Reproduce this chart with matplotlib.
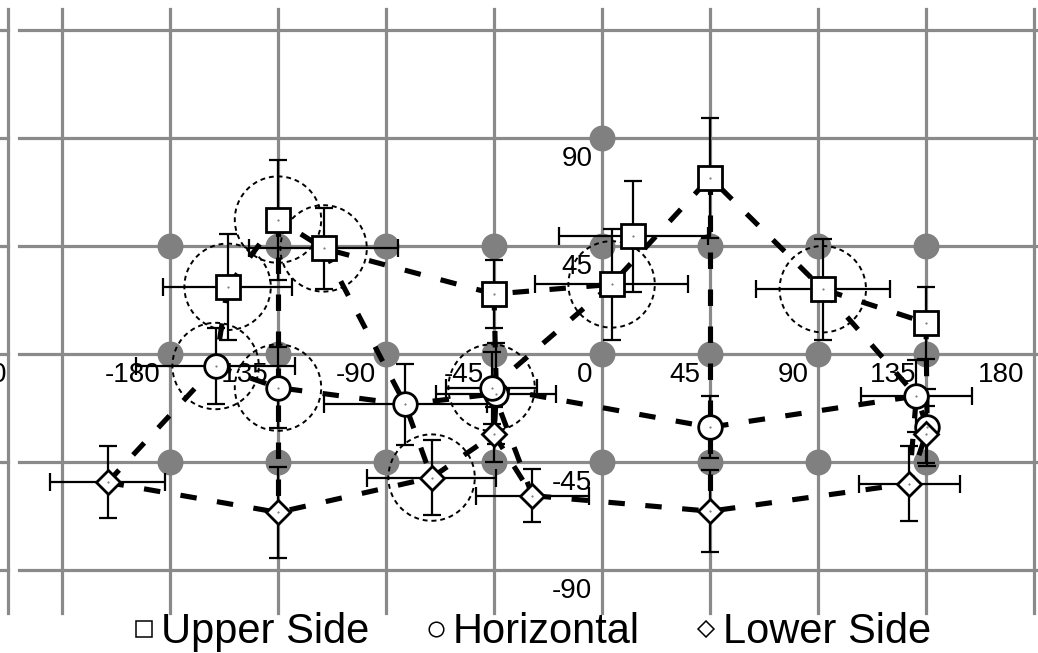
import matplotlib

matplotlib.use("Agg")
import matplotlib.pyplot as plt  # noqa: E402
from matplotlib.lines import Line2D  # noqa: E402
from matplotlib.patches import Circle  # noqa: E402

plt.rcParams["font.family"] = ["Liberation Sans", "DejaVu Sans"]

# target grid (azimuth, elevation), degrees
target_az = [-180, -135, -90, -45, 0, 45, 90, 135]
target_el = [45, 0, -45]
top_az, top_el = 0, 90

# responses per target azimuth: mean and spread, ring = dotted circle drawn
upper_x = [-156, -135, -116, -45, 4, 45, 92, 135]
upper_y = [28, 56, 44, 25, 29, 73.5, 27, 13]
upper_xerr = [27, 0, 31, 0, 32, 0, 28, 0]
upper_yerr = [22, 25, 17, 14, 23, 25, 21, 15]
upper_ring = [1, 1, 1, 0, 1, 0, 1, 0]

# response to the (0, 90) target
top_x, top_y, top_xerr, top_yerr = 13, 49, 31, 23

horiz_x = [-161, -135, -82, -44, -46, 45, 131, 135.5]
horiz_y = [-5, -14, -21, -16.5, -14, -30.5, -17.5, -30.5]
horiz_xerr = [33, 0, 34, 25, 19, 0, 23, 0]
horiz_yerr = [16, 17, 17, 21, 15, 13, 15, 16]
horiz_ring = [1, 1, 0, 0, 1, 0, 0, 0]

lower_x = [-206, -135, -71, -45, -29, 45, 128, 135]
lower_y = [-53.5, -66, -51.5, -33.5, -59, -65.5, -54, -33.5]
lower_xerr = [24, 0, 27, 0, 23.5, 0, 21, 0]
lower_yerr = [15, 19, 15.5, 11.5, 11, 17, 15.5, 12]
lower_ring = [0, 0, 1, 0, 0, 0, 0, 0]

ring_radius = 18
xtick_vals = [-180, -135, -90, -45, 0, 45, 90, 135, 180]
ytick_vals = [90, 45, -45, -90]
grid_x = [-225, -180, -135, -90, -45, 0, 45, 90, 135, 180]
grid_y = [-90, -45, 0, 45, 90, 135]

GRID = "#8a8a8a"
DOT = "#808080"

fig = plt.figure(figsize=(10.38, 6.53), dpi=100)
ax = fig.add_axes([0, 0, 1, 1])
ax.set_xlim(-250.83, 181.67)
ax.set_ylim(-124.58, 147.5)
ax.axis("off")

# grid
for gx in grid_x:
    ax.plot([gx, gx], [143.75, -107.9], color=GRID, lw=2.3, zorder=1)
ax.plot([-247.5, -247.5], [143.75, -107.9], color=GRID, lw=2.3, zorder=1)
for gy in grid_y:
    ax.plot([-242.9, 181.67], [gy, gy], color=GRID, lw=2.3, zorder=1)
    ax.plot([-250.83, -247.5], [gy, gy], color=GRID, lw=2.3, zorder=1)

# target positions
for el in target_el:
    ax.plot(target_az, [el] * len(target_az), "o", ms=18.7, color=DOT,
            mec="none", zorder=2)
ax.plot([top_az], [top_el], "o", ms=18.7, color=DOT, mec="none", zorder=2)

# axis labels sitting on the crossing lines
for v in xtick_vals:
    ax.annotate(str(v), (v, 0), xytext=(-7, -6), textcoords="offset points",
                ha="right", va="top", fontsize=20, zorder=3)
for v in ytick_vals:
    ax.annotate(str(v), (0, v), xytext=(-7, -6), textcoords="offset points",
                ha="right", va="top", fontsize=20, zorder=3)
ax.annotate("0", (-247.5, 0), xytext=(-1, -6), textcoords="offset points",
            ha="right", va="top", fontsize=20, zorder=3)

# deformed grid: rows then columns
dash = (0, (3.2, 4))
for xs, ys in [(upper_x, upper_y), (horiz_x, horiz_y), (lower_x, lower_y)]:
    ax.plot(xs, ys, ls=dash, lw=3.7, color="black", zorder=4)
for i in range(len(target_az)):
    ax.plot([upper_x[i], horiz_x[i], lower_x[i]],
            [upper_y[i], horiz_y[i], lower_y[i]],
            ls=dash, lw=3.7, color="black", zorder=4)

series = [
    (upper_x + [top_x], upper_y + [top_y], upper_xerr + [top_xerr],
     upper_yerr + [top_yerr], upper_ring + [0], "s", 17),
    (horiz_x, horiz_y, horiz_xerr, horiz_yerr, horiz_ring, "o", 17),
    (lower_x, lower_y, lower_xerr, lower_yerr, lower_ring, "D", 12.5),
]
for xs, ys, xe, ye, ring, mk, ms in series:
    for x, y, r in zip(xs, ys, ring):
        if r:
            ax.add_patch(Circle((x, y), ring_radius, fill=False, ec="black",
                                lw=1.4, ls=(0, (2.5, 2)), zorder=5))
    ax.errorbar(xs, ys, xerr=xe, yerr=ye, fmt="none", ecolor="black",
                elinewidth=1.6, capsize=6.5, capthick=1.6, zorder=6)
    ax.plot(xs, ys, mk, ms=ms, mfc="white", mec="black", mew=2, zorder=7)
    ax.plot(xs, ys, ".", ms=1, color="#666666", zorder=8)

handles = [
    Line2D([], [], marker="s", ls="none", ms=11, mfc="white", mec="black", mew=1.1),
    Line2D([], [], marker="o", ls="none", ms=10.5, mfc="white", mec="black", mew=1.1),
    Line2D([], [], marker="D", ls="none", ms=8.5, mfc="white", mec="black", mew=1.1),
]
fig.legend(handles, ["Upper Side", "Horizontal", "Lower Side"], loc="center",
           bbox_to_anchor=(0.512, 0.032), ncol=3, fontsize=30, frameon=False,
           handlelength=0.6, handletextpad=0.1, columnspacing=1.3,
           borderpad=0, borderaxespad=0)

fig.savefig("out.png", dpi=100)
